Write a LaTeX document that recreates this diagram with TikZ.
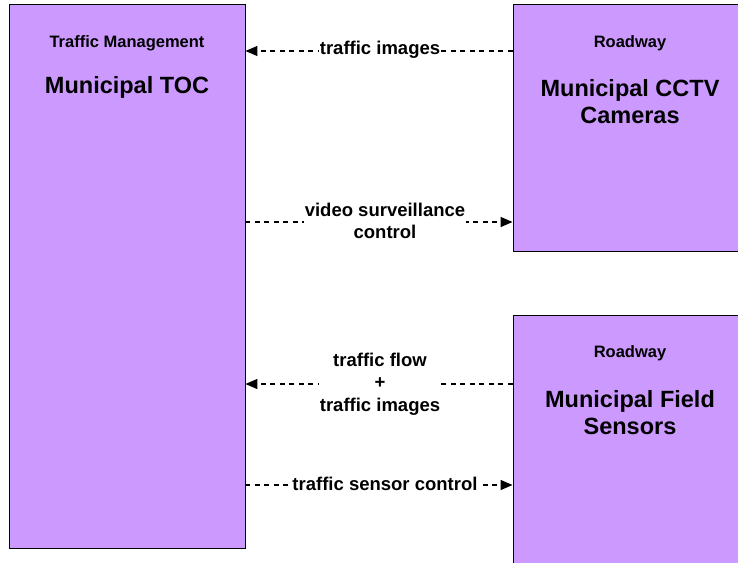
\documentclass[tikz,border=0pt]{standalone}
\usepackage{fontspec}
\setmainfont{Liberation Sans}
\usetikzlibrary{arrows.meta}
\definecolor{boxpurple}{HTML}{CC99FF}
\begin{document}
\begin{tikzpicture}[x=1pt,y=-1pt,
  box/.style={draw=black,line width=0.9pt,fill=boxpurple,rectangle,inner sep=0pt},
  titletext/.style={font=\fontsize{16.5}{20}\selectfont\bfseries,align=center,inner sep=0pt},
  nametext/.style={font=\fontsize{23.5}{27}\selectfont\bfseries,align=center,inner sep=0pt},
  flowlabel/.style={font=\fontsize{18.5}{22.5}\selectfont\bfseries,align=center,fill=white,inner sep=1pt},
  flow/.style={line width=1.5pt,dash pattern=on 5pt off 4.5pt,-{Triangle[length=12pt,width=10pt]}}]
\useasboundingbox (0,0) rectangle (738,562);
\fill[white] (0,0) rectangle (738,562);
% boxes
\node[box,minimum width=236pt,minimum height=544pt] (toc) at (127,276) {};
\node[box,minimum width=236pt,minimum height=247pt] (cctv) at (631,127.5) {};
\node[box,minimum width=236pt,minimum height=250pt] (sens) at (631,440) {};
% texts
\node[titletext] (toct) at (127,43) {Traffic Management};
\node[nametext] (tocn) at (127,87) {Municipal TOC};
\node[titletext] (cctvt) at (630,43) {Roadway};
\node[nametext] (cctvn) at (630,101.5) {Municipal CCTV\\Cameras};
\node[titletext] (senst) at (630,353) {Roadway};
\node[nametext] (sensn) at (630,413) {Municipal Field\\Sensors};
% connector end points
\coordinate (a1s) at (cctv.west |- 0,51);
\coordinate (a1e) at (toc.east |- 0,51);
\coordinate (a2s) at (toc.east |- 0,222);
\coordinate (a2e) at (cctv.west |- 0,222);
\coordinate (a3s) at (sens.west |- 0,384);
\coordinate (a3e) at (toc.east |- 0,384);
\coordinate (a4s) at (toc.east |- 0,485);
\coordinate (a4e) at (sens.west |- 0,485);
% connectors
\draw[flow] (a1s) -- (a1e);
\draw[flow] (a2s) -- (a2e);
\draw[flow] (a3s) -- (a3e);
\draw[flow] (a4s) -- (a4e);
% labels
\node[flowlabel] (l1) at (380,50) {traffic images};
\node[flowlabel] (l2) at (385,221) {video surveillance\\control};
\node[flowlabel] (l3) at (380,384) {traffic flow\\+\\traffic images};
\node[flowlabel] (l4) at (385,484) {traffic sensor control};
\end{tikzpicture}
\end{document}
